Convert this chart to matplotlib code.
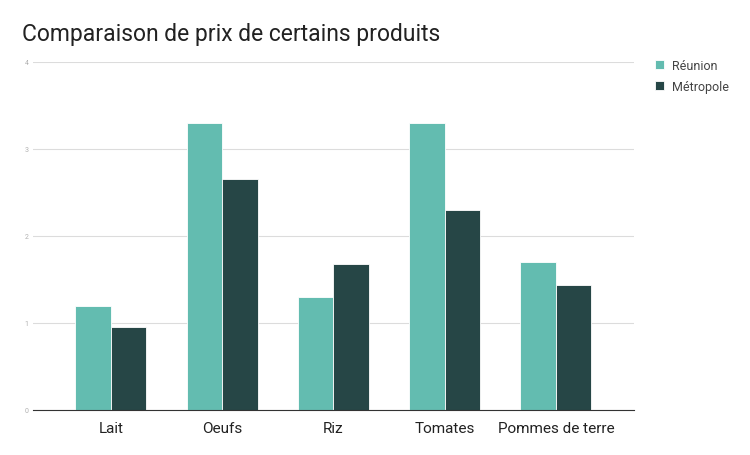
import matplotlib
matplotlib.use("Agg")
import matplotlib.pyplot as plt
import numpy as np

categories = ["Lait", "Oeufs", "Riz", "Tomates", "Pommes de terre"]
reunion = [1.2, 3.3, 1.3, 3.3, 1.7]
metropole = [0.95, 2.65, 1.68, 2.3, 1.44]
series_names = ["Réunion", "Métropole"]
yticks = [0, 1, 2, 3, 4]

plt.rcParams['font.family'] = ['Roboto', 'DejaVu Sans']

fig = plt.figure(figsize=(7.5, 4.56), dpi=100)
ax = fig.add_axes([0.044, 0.0987, 0.801, 0.7633])

x = np.arange(len(categories))
w = 0.32
c1 = "#63bcb0"
c2 = "#264646"
ax.bar(x - w/2, reunion, w, color=c1, label=series_names[0], zorder=3, edgecolor="white", linewidth=0.6)
ax.bar(x + w/2, metropole, w, color=c2, label=series_names[1], zorder=3, edgecolor="white", linewidth=0.6)

ax.set_xlim(-0.7, 4.7)
ax.set_ylim(0, 4)
ax.set_yticks(yticks)
ax.set_yticklabels([str(t) for t in yticks], fontsize=5, color="#b0b0b0")
ax.set_xticks(x)
ax.set_xticklabels(categories, fontsize=11, color="#222222")
ax.tick_params(axis="x", length=0, pad=8)
ax.tick_params(axis="y", length=0, pad=3)
ax.yaxis.grid(True, color="#dcdcdc", linewidth=0.8, zorder=0)
for s in ["top", "right", "left"]:
    ax.spines[s].set_visible(False)
ax.spines["bottom"].set_color("#333333")
ax.spines["bottom"].set_linewidth(0.8)
ax.spines["bottom"].set_zorder(4)

fig.text(0.029, 0.925, "Comparaison de prix de certains produits", fontsize=16.5, color="#222222", ha="left", va="center")

leg = fig.legend(loc="upper left", bbox_to_anchor=(0.858, 0.893), frameon=False, fontsize=9,
                 handlelength=0.7, handleheight=0.7, handletextpad=0.7, labelspacing=0.6, labelcolor="#444444")

fig.savefig("out.png", dpi=100, facecolor="white")
